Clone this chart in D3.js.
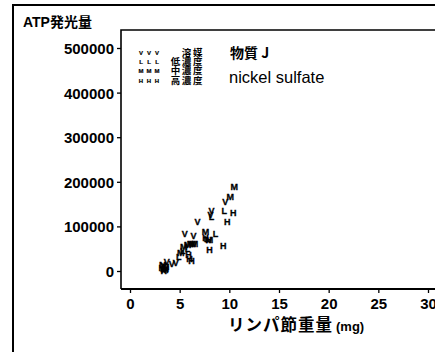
<!DOCTYPE html>
<html>
<head>
<meta charset="utf-8">
<script src="https://cdn.jsdelivr.net/npm/d3@7/dist/d3.min.js"></script>
<style>
  html, body { margin: 0; padding: 0; background: #fff; }
  svg { display: block; }
  text { fill: #000; }
</style>
</head>
<body>
<svg id="chart" width="435" height="352"></svg>
<script>
// Dose groups: label, plotting glyph
const groups = ["溶媒", "低濃度", "中濃度", "高濃度"];
const glyphs = ["V", "L", "M", "H"];

// Lymph node weight (mg) and ATP luminescence for each group
const vehicleX = [3.4, 3.7, 4.2, 4.6, 5.5, 6.4, 6.8, 8.2, 9.6, 8.1];
const vehicleY = [12000, 20000, 16000, 18000, 83000, 80000, 110000, 135000, 155000, 127000];

const lowX = [3.3, 3.5, 4.9, 5.3, 5.8, 8.2, 8.6, 9.5, 7.7];
const lowY = [5000, 8000, 32000, 45000, 50000, 122000, 83000, 135000, 72000];

const midX = [3.3, 3.5, 3.6, 5.1, 5.4, 5.8, 6.3, 6.5, 7.6, 8.0, 10.1, 10.5, 6.1];
const midY = [15000, 3000, 10000, 40000, 54000, 58000, 60000, 62000, 88000, 70000, 167000, 190000, 62000];

const highX = [3.4, 3.6, 5.9, 6.0, 6.2, 7.6, 7.9, 8.0, 9.4, 9.8, 10.4, 3.2];
const highY = [0, 5000, 36000, 28000, 24000, 75000, 69000, 48000, 56000, 110000, 131000, 8000];

const seriesX = [vehicleX, lowX, midX, highX];
const seriesY = [vehicleY, lowY, midY, highY];

const xTicks = [0, 5, 10, 15, 20, 25, 30];
const yTicks = [0, 100000, 200000, 300000, 400000, 500000];

const titleY = "ATP発光量";
const titleX = "リンパ節重量";
const unitX = "(mg)";
const substance = "物質 J";
const substanceName = "nickel sulfate";

const svg = d3.select("#chart");
const font = "'Liberation Sans', Arial, sans-serif";
const cjk = "'Noto Sans CJK JP', 'Liberation Sans', sans-serif";

const x = d3.scaleLinear().domain([0, 30]).range([130, 428]);
const y = d3.scaleLinear().domain([0, 500000]).range([271, 48]);

const plotLeft = 121, plotTop = 30, plotBottom = 289;

// outer frame
svg.append("path")
  .attr("d", `M13,352 V5 H435`)
  .attr("fill", "none").attr("stroke", "#000").attr("stroke-width", 2);

// plot frame (left and top edges, x axis baseline)
svg.append("path")
  .attr("d", `M${plotLeft},${plotBottom} V${plotTop} H435`)
  .attr("fill", "none").attr("stroke", "#000").attr("stroke-width", 1.6);
svg.append("line")
  .attr("x1", plotLeft).attr("x2", 435)
  .attr("y1", plotBottom).attr("y2", plotBottom)
  .attr("stroke", "#000").attr("stroke-width", 2);

// y axis ticks
const yAxis = svg.append("g")
  .attr("transform", `translate(${plotLeft},0)`)
  .call(d3.axisLeft(y).tickValues(yTicks).tickFormat(d3.format("d")).tickSize(4).tickPadding(3));
yAxis.select(".domain").remove();
yAxis.selectAll("line").attr("stroke-width", 1.3);
yAxis.selectAll("text")
  .attr("font-family", font).attr("font-size", 15).attr("font-weight", "bold")
  .attr("dy", "0.36em");

// x axis ticks
const xAxis = svg.append("g")
  .attr("transform", `translate(0,${plotBottom})`)
  .call(d3.axisBottom(x).tickValues(xTicks).tickSize(4).tickPadding(5));
xAxis.select(".domain").remove();
xAxis.selectAll("line").attr("stroke-width", 1.3);
xAxis.selectAll("text")
  .attr("font-family", font).attr("font-size", 15).attr("font-weight", "bold");

// axis titles
const yt = svg.append("text")
  .attr("x", 23).attr("y", 27)
  .attr("font-weight", "bold");
yt.append("tspan").attr("font-family", font).attr("font-size", 14).text(titleY.slice(0, 3));
yt.append("tspan").attr("font-family", cjk).attr("font-size", 14).text(titleY.slice(3));

const xt = svg.append("text")
  .attr("x", 228).attr("y", 331)
  .attr("font-family", cjk).attr("font-weight", "bold");
xt.append("tspan").attr("font-size", 16.5).attr("letter-spacing", 1).text(titleX);
xt.append("tspan").attr("font-family", font).attr("font-size", 13).attr("dx", 3).text(unitX);

// scatter glyphs
groups.forEach((g, i) => {
  const pts = seriesX[i].map((v, j) => [v, seriesY[i][j]]);
  svg.append("g").selectAll("text")
    .data(pts)
    .join("text")
    .attr("x", d => x(d[0]))
    .attr("y", d => y(d[1]))
    .attr("text-anchor", "middle")
    .attr("dy", "0.36em")
    .attr("font-family", font).attr("font-size", 9).attr("font-weight", "bold")
    .attr("stroke", "#000").attr("stroke-width", 0.3)
    .text(glyphs[i]);
});

// legend
const legendRowY = [52.5, 62, 71, 80.5];
const legend = svg.append("g");
groups.forEach((g, i) => {
  [141, 149, 157].forEach(px => {
    legend.append("text")
      .attr("x", px).attr("y", legendRowY[i])
      .attr("text-anchor", "middle").attr("dy", "0.36em")
      .attr("font-family", font).attr("font-size", 6).attr("font-weight", "bold")
      .attr("stroke", "#000").attr("stroke-width", 0.2)
      .text(glyphs[i]);
  });
  legend.append("text")
    .attr("x", 204).attr("y", legendRowY[i])
    .attr("text-anchor", "end").attr("dy", "0.36em")
    .attr("font-family", cjk).attr("font-size", 9.5).attr("font-weight", "bold")
    .attr("letter-spacing", 1.6)
    .text(g);
});

svg.append("text")
  .attr("x", 230).attr("y", 58)
  .attr("font-family", cjk).attr("font-size", 14).attr("font-weight", "bold")
  .text(substance);

svg.append("text")
  .attr("x", 229).attr("y", 83)
  .attr("font-family", font).attr("font-size", 16.5)
  .text(substanceName);
</script>
</body>
</html>
